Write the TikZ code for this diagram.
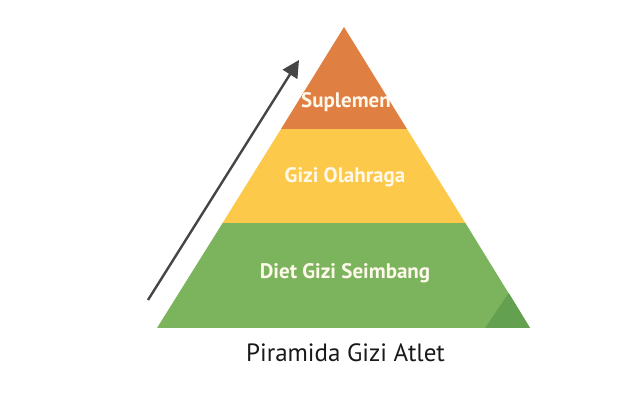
\documentclass[tikz,border=0pt]{standalone}
\usepackage{fontspec}
\setmainfont{PT Sans}
\usetikzlibrary{arrows.meta}
\definecolor{orangeband}{HTML}{E07F42}
\definecolor{yellowband}{HTML}{FDC94B}
\definecolor{greenband}{HTML}{7BB45C}
\definecolor{greendark}{HTML}{63A050}
\definecolor{arrowgray}{HTML}{454545}
\definecolor{labelwhite}{HTML}{FFF9EC}
\tikzset{
  band/.style={draw=none},
  bandlabel/.style={font=\bfseries\fontsize{21}{24}\selectfont, text=labelwhite, inner sep=0pt},
  title/.style={font=\fontsize{25}{28}\selectfont, text=black!90, inner sep=0pt},
  uparrow/.style={draw=arrowgray, line width=2.4pt, -{Triangle[length=17pt,width=17pt]}}
}
\begin{document}
\begin{tikzpicture}[x=1pt,y=-1pt]
\useasboundingbox (0,0) rectangle (619,403);
\coordinate (apex) at (344,27);
\coordinate (bl) at (157,328);
\coordinate (br) at (530,328);
\coordinate (ol) at (281,129);
\coordinate (or) at (407,129);
\coordinate (yl) at (222.6,223);
\coordinate (yr) at (465.4,223);
% bands
\fill[band, greenband] (yl) -- (yr) -- (br) -- (bl) -- cycle;
\fill[band, greendark] (485,328) -- (508.8,293) -- (br) -- cycle;
\fill[band, yellowband] (ol) -- (or) -- (yr) -- (yl) -- cycle;
\fill[band, orangeband] (apex) -- (or) -- (ol) -- cycle;
% labels
\begin{scope}
\clip (apex) -- (or) -- (ol) -- cycle;
\node[bandlabel, anchor=west] (sup) at (301,102) {Suplemen};
\end{scope}
\node[bandlabel] (olah) at (345,177) {Gizi Olahraga};
\node[bandlabel] (diet) at (345,273) {Diet Gizi Seimbang};
\node[title] (ttl) at (345.5,353) {Piramida Gizi Atlet};
% arrow
\coordinate (as) at (148,300);
\coordinate (ae) at (299,60);
\draw[uparrow] (as) -- (ae);
\end{tikzpicture}
\end{document}
